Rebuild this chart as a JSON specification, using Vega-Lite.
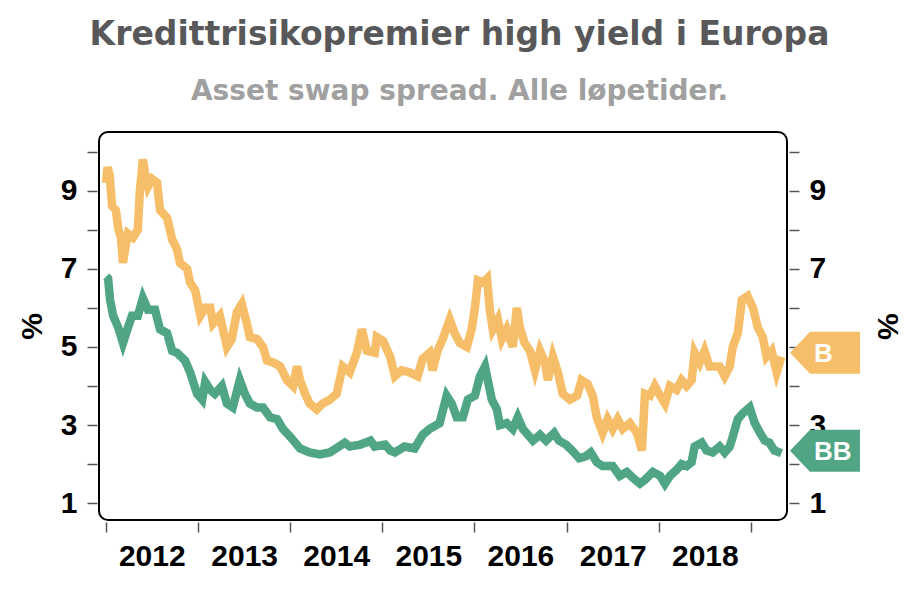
{
  "$schema": "https://vega.github.io/schema/vega-lite/v6.json",
  "width": 688,
  "height": 388,
  "autosize": {"type": "none"},
  "padding": {"left": 99, "top": 132, "right": 133, "bottom": 78},
  "background": "white",
  "title": {
    "text": "Kredittrisikopremier high yield i Europa",
    "subtitle": "Asset swap spread. Alle løpetider.",
    "anchor": "middle",
    "frame": "bounds",
    "font": "DejaVu Sans",
    "fontSize": 33,
    "fontWeight": "bold",
    "color": "#58585a",
    "subtitleFont": "DejaVu Sans",
    "subtitleFontSize": 28,
    "subtitleFontWeight": "bold",
    "subtitleColor": "#a0a0a0",
    "subtitlePadding": 26,
    "offset": 26
  },
  "config": {
    "view": {"stroke": "#000000", "strokeWidth": 2, "cornerRadius": 9, "fill": "white"},
    "axis": {
      "labelFont": "Liberation Sans",
      "labelFontSize": 30,
      "labelFontWeight": "bold",
      "labelColor": "#000000",
      "titleFont": "Liberation Sans",
      "titleFontSize": 30,
      "titleFontWeight": "bold",
      "titleColor": "#000000",
      "grid": false,
      "domain": false,
      "tickColor": "#555555",
      "tickWidth": 1.5,
      "tickSize": 10,
      "offset": 2
    }
  },
  "datasets": {
    "spreads": [
      {"date": "2012-01-02", "series": "B", "spread": 9.2},
      {"date": "2012-01-08", "series": "B", "spread": 9.6},
      {"date": "2012-01-16", "series": "B", "spread": 9.4},
      {"date": "2012-01-26", "series": "B", "spread": 8.6},
      {"date": "2012-02-10", "series": "B", "spread": 8.5},
      {"date": "2012-02-20", "series": "B", "spread": 8.0},
      {"date": "2012-03-01", "series": "B", "spread": 7.8},
      {"date": "2012-03-09", "series": "B", "spread": 7.15},
      {"date": "2012-03-20", "series": "B", "spread": 7.6},
      {"date": "2012-03-29", "series": "B", "spread": 7.9},
      {"date": "2012-04-18", "series": "B", "spread": 7.8},
      {"date": "2012-05-07", "series": "B", "spread": 8.0},
      {"date": "2012-05-15", "series": "B", "spread": 9.0},
      {"date": "2012-05-27", "series": "B", "spread": 9.8},
      {"date": "2012-06-05", "series": "B", "spread": 9.4},
      {"date": "2012-06-16", "series": "B", "spread": 9.1},
      {"date": "2012-07-02", "series": "B", "spread": 9.3},
      {"date": "2012-07-22", "series": "B", "spread": 9.2},
      {"date": "2012-08-03", "series": "B", "spread": 8.5},
      {"date": "2012-08-31", "series": "B", "spread": 8.3},
      {"date": "2012-09-20", "series": "B", "spread": 7.75},
      {"date": "2012-10-09", "series": "B", "spread": 7.5},
      {"date": "2012-10-21", "series": "B", "spread": 7.15},
      {"date": "2012-11-18", "series": "B", "spread": 7.0},
      {"date": "2012-11-30", "series": "B", "spread": 6.65},
      {"date": "2012-12-20", "series": "B", "spread": 6.45},
      {"date": "2013-01-10", "series": "B", "spread": 5.8},
      {"date": "2013-01-29", "series": "B", "spread": 6.0},
      {"date": "2013-02-18", "series": "B", "spread": 6.0},
      {"date": "2013-03-01", "series": "B", "spread": 5.6},
      {"date": "2013-03-28", "series": "B", "spread": 5.8},
      {"date": "2013-04-25", "series": "B", "spread": 5.0},
      {"date": "2013-05-14", "series": "B", "spread": 5.2},
      {"date": "2013-06-04", "series": "B", "spread": 5.9},
      {"date": "2013-06-23", "series": "B", "spread": 6.1},
      {"date": "2013-07-13", "series": "B", "spread": 5.6},
      {"date": "2013-07-25", "series": "B", "spread": 5.25},
      {"date": "2013-08-22", "series": "B", "spread": 5.2},
      {"date": "2013-09-15", "series": "B", "spread": 5.0},
      {"date": "2013-10-01", "series": "B", "spread": 4.65},
      {"date": "2013-10-25", "series": "B", "spread": 4.6},
      {"date": "2013-11-22", "series": "B", "spread": 4.5},
      {"date": "2013-12-19", "series": "B", "spread": 4.15},
      {"date": "2014-01-12", "series": "B", "spread": 4.0},
      {"date": "2014-01-28", "series": "B", "spread": 4.5},
      {"date": "2014-02-09", "series": "B", "spread": 4.15},
      {"date": "2014-03-01", "series": "B", "spread": 3.8},
      {"date": "2014-03-19", "series": "B", "spread": 3.55},
      {"date": "2014-04-16", "series": "B", "spread": 3.4},
      {"date": "2014-05-10", "series": "B", "spread": 3.55},
      {"date": "2014-06-07", "series": "B", "spread": 3.65},
      {"date": "2014-07-04", "series": "B", "spread": 3.8},
      {"date": "2014-07-28", "series": "B", "spread": 4.5},
      {"date": "2014-08-25", "series": "B", "spread": 4.35},
      {"date": "2014-09-22", "series": "B", "spread": 4.85},
      {"date": "2014-10-12", "series": "B", "spread": 5.45},
      {"date": "2014-11-01", "series": "B", "spread": 4.9},
      {"date": "2014-12-02", "series": "B", "spread": 4.85},
      {"date": "2014-12-10", "series": "B", "spread": 5.25},
      {"date": "2015-01-04", "series": "B", "spread": 5.15},
      {"date": "2015-02-01", "series": "B", "spread": 4.75},
      {"date": "2015-02-20", "series": "B", "spread": 4.25},
      {"date": "2015-03-18", "series": "B", "spread": 4.4},
      {"date": "2015-04-19", "series": "B", "spread": 4.35},
      {"date": "2015-05-21", "series": "B", "spread": 4.25},
      {"date": "2015-06-10", "series": "B", "spread": 4.7},
      {"date": "2015-07-07", "series": "B", "spread": 4.85},
      {"date": "2015-07-19", "series": "B", "spread": 4.4},
      {"date": "2015-08-08", "series": "B", "spread": 4.9},
      {"date": "2015-08-28", "series": "B", "spread": 5.2},
      {"date": "2015-09-25", "series": "B", "spread": 5.7},
      {"date": "2015-10-15", "series": "B", "spread": 5.35},
      {"date": "2015-11-04", "series": "B", "spread": 5.1},
      {"date": "2015-12-02", "series": "B", "spread": 5.0},
      {"date": "2015-12-21", "series": "B", "spread": 5.45},
      {"date": "2016-01-03", "series": "B", "spread": 6.0},
      {"date": "2016-01-15", "series": "B", "spread": 6.7},
      {"date": "2016-02-04", "series": "B", "spread": 6.65},
      {"date": "2016-02-20", "series": "B", "spread": 6.75},
      {"date": "2016-03-02", "series": "B", "spread": 5.95},
      {"date": "2016-03-14", "series": "B", "spread": 5.45},
      {"date": "2016-04-03", "series": "B", "spread": 5.7},
      {"date": "2016-04-19", "series": "B", "spread": 5.2},
      {"date": "2016-05-08", "series": "B", "spread": 5.45},
      {"date": "2016-06-01", "series": "B", "spread": 5.0},
      {"date": "2016-06-17", "series": "B", "spread": 6.0},
      {"date": "2016-06-29", "series": "B", "spread": 5.5},
      {"date": "2016-07-18", "series": "B", "spread": 5.1},
      {"date": "2016-08-08", "series": "B", "spread": 4.9},
      {"date": "2016-08-28", "series": "B", "spread": 4.4},
      {"date": "2016-09-17", "series": "B", "spread": 4.9},
      {"date": "2016-10-07", "series": "B", "spread": 4.6},
      {"date": "2016-10-18", "series": "B", "spread": 4.15},
      {"date": "2016-11-07", "series": "B", "spread": 4.75},
      {"date": "2016-11-27", "series": "B", "spread": 4.35},
      {"date": "2016-12-16", "series": "B", "spread": 3.8},
      {"date": "2017-01-14", "series": "B", "spread": 3.65},
      {"date": "2017-02-11", "series": "B", "spread": 3.75},
      {"date": "2017-03-01", "series": "B", "spread": 4.15},
      {"date": "2017-03-25", "series": "B", "spread": 4.05},
      {"date": "2017-04-14", "series": "B", "spread": 3.75},
      {"date": "2017-04-30", "series": "B", "spread": 3.2},
      {"date": "2017-05-23", "series": "B", "spread": 2.8},
      {"date": "2017-06-12", "series": "B", "spread": 3.15},
      {"date": "2017-07-02", "series": "B", "spread": 2.9},
      {"date": "2017-07-22", "series": "B", "spread": 3.15},
      {"date": "2017-08-11", "series": "B", "spread": 2.9},
      {"date": "2017-09-08", "series": "B", "spread": 3.05},
      {"date": "2017-10-06", "series": "B", "spread": 2.8},
      {"date": "2017-10-26", "series": "B", "spread": 2.35},
      {"date": "2017-11-07", "series": "B", "spread": 3.8},
      {"date": "2017-11-27", "series": "B", "spread": 3.75},
      {"date": "2017-12-16", "series": "B", "spread": 4.0},
      {"date": "2018-01-06", "series": "B", "spread": 3.75},
      {"date": "2018-01-25", "series": "B", "spread": 3.55},
      {"date": "2018-02-14", "series": "B", "spread": 4.0},
      {"date": "2018-03-12", "series": "B", "spread": 3.9},
      {"date": "2018-04-01", "series": "B", "spread": 4.15},
      {"date": "2018-04-21", "series": "B", "spread": 4.0},
      {"date": "2018-05-11", "series": "B", "spread": 4.15},
      {"date": "2018-05-23", "series": "B", "spread": 4.85},
      {"date": "2018-06-12", "series": "B", "spread": 4.6},
      {"date": "2018-07-01", "series": "B", "spread": 4.9},
      {"date": "2018-07-21", "series": "B", "spread": 4.5},
      {"date": "2018-08-30", "series": "B", "spread": 4.5},
      {"date": "2018-09-19", "series": "B", "spread": 4.25},
      {"date": "2018-10-09", "series": "B", "spread": 4.5},
      {"date": "2018-10-21", "series": "B", "spread": 5.0},
      {"date": "2018-11-10", "series": "B", "spread": 5.35},
      {"date": "2018-11-26", "series": "B", "spread": 6.2},
      {"date": "2018-12-19", "series": "B", "spread": 6.3},
      {"date": "2019-01-09", "series": "B", "spread": 6.0},
      {"date": "2019-01-28", "series": "B", "spread": 5.5},
      {"date": "2019-02-17", "series": "B", "spread": 5.25},
      {"date": "2019-03-04", "series": "B", "spread": 4.75},
      {"date": "2019-03-24", "series": "B", "spread": 4.9},
      {"date": "2019-04-13", "series": "B", "spread": 4.35},
      {"date": "2019-05-02", "series": "B", "spread": 4.75},
      {"date": "2012-01-02", "series": "BB", "spread": 6.8},
      {"date": "2012-01-10", "series": "BB", "spread": 6.75},
      {"date": "2012-01-18", "series": "BB", "spread": 6.2},
      {"date": "2012-01-30", "series": "BB", "spread": 5.8},
      {"date": "2012-02-19", "series": "BB", "spread": 5.5},
      {"date": "2012-03-09", "series": "BB", "spread": 5.1},
      {"date": "2012-03-29", "series": "BB", "spread": 5.5},
      {"date": "2012-04-14", "series": "BB", "spread": 5.8},
      {"date": "2012-05-07", "series": "BB", "spread": 5.8},
      {"date": "2012-05-27", "series": "BB", "spread": 6.25},
      {"date": "2012-06-16", "series": "BB", "spread": 5.95},
      {"date": "2012-07-14", "series": "BB", "spread": 5.95},
      {"date": "2012-08-03", "series": "BB", "spread": 5.45},
      {"date": "2012-08-31", "series": "BB", "spread": 5.35},
      {"date": "2012-09-20", "series": "BB", "spread": 4.9},
      {"date": "2012-10-09", "series": "BB", "spread": 4.85},
      {"date": "2012-11-10", "series": "BB", "spread": 4.65},
      {"date": "2012-11-30", "series": "BB", "spread": 4.35},
      {"date": "2012-12-28", "series": "BB", "spread": 3.8},
      {"date": "2013-01-17", "series": "BB", "spread": 3.65},
      {"date": "2013-01-29", "series": "BB", "spread": 4.1},
      {"date": "2013-02-18", "series": "BB", "spread": 3.9},
      {"date": "2013-03-08", "series": "BB", "spread": 3.8},
      {"date": "2013-04-05", "series": "BB", "spread": 4.0},
      {"date": "2013-04-25", "series": "BB", "spread": 3.55},
      {"date": "2013-05-18", "series": "BB", "spread": 3.45},
      {"date": "2013-06-15", "series": "BB", "spread": 4.15},
      {"date": "2013-07-05", "series": "BB", "spread": 3.8},
      {"date": "2013-07-25", "series": "BB", "spread": 3.55},
      {"date": "2013-08-22", "series": "BB", "spread": 3.45},
      {"date": "2013-09-15", "series": "BB", "spread": 3.45},
      {"date": "2013-10-13", "series": "BB", "spread": 3.2},
      {"date": "2013-11-10", "series": "BB", "spread": 3.15},
      {"date": "2013-12-03", "series": "BB", "spread": 2.9},
      {"date": "2014-01-01", "series": "BB", "spread": 2.7},
      {"date": "2014-02-09", "series": "BB", "spread": 2.4},
      {"date": "2014-03-19", "series": "BB", "spread": 2.3},
      {"date": "2014-04-28", "series": "BB", "spread": 2.25},
      {"date": "2014-06-07", "series": "BB", "spread": 2.3},
      {"date": "2014-07-01", "series": "BB", "spread": 2.4},
      {"date": "2014-08-05", "series": "BB", "spread": 2.55},
      {"date": "2014-08-25", "series": "BB", "spread": 2.45},
      {"date": "2014-10-06", "series": "BB", "spread": 2.5},
      {"date": "2014-11-15", "series": "BB", "spread": 2.6},
      {"date": "2014-12-02", "series": "BB", "spread": 2.45},
      {"date": "2015-01-12", "series": "BB", "spread": 2.5},
      {"date": "2015-02-01", "series": "BB", "spread": 2.35},
      {"date": "2015-02-20", "series": "BB", "spread": 2.3},
      {"date": "2015-03-30", "series": "BB", "spread": 2.45},
      {"date": "2015-05-09", "series": "BB", "spread": 2.4},
      {"date": "2015-06-10", "series": "BB", "spread": 2.75},
      {"date": "2015-07-07", "series": "BB", "spread": 2.9},
      {"date": "2015-08-16", "series": "BB", "spread": 3.05},
      {"date": "2015-09-13", "series": "BB", "spread": 3.75},
      {"date": "2015-10-03", "series": "BB", "spread": 3.55},
      {"date": "2015-10-23", "series": "BB", "spread": 3.2},
      {"date": "2015-11-16", "series": "BB", "spread": 3.2},
      {"date": "2015-12-06", "series": "BB", "spread": 3.65},
      {"date": "2016-01-03", "series": "BB", "spread": 3.75},
      {"date": "2016-01-23", "series": "BB", "spread": 4.25},
      {"date": "2016-02-12", "series": "BB", "spread": 4.5},
      {"date": "2016-02-23", "series": "BB", "spread": 4.15},
      {"date": "2016-03-10", "series": "BB", "spread": 3.65},
      {"date": "2016-03-30", "series": "BB", "spread": 3.4},
      {"date": "2016-04-11", "series": "BB", "spread": 3.0},
      {"date": "2016-05-08", "series": "BB", "spread": 3.05},
      {"date": "2016-06-01", "series": "BB", "spread": 2.9},
      {"date": "2016-06-21", "series": "BB", "spread": 3.2},
      {"date": "2016-07-11", "series": "BB", "spread": 2.9},
      {"date": "2016-07-31", "series": "BB", "spread": 2.75},
      {"date": "2016-08-20", "series": "BB", "spread": 2.6},
      {"date": "2016-09-17", "series": "BB", "spread": 2.75},
      {"date": "2016-10-11", "series": "BB", "spread": 2.6},
      {"date": "2016-11-12", "series": "BB", "spread": 2.8},
      {"date": "2016-12-01", "series": "BB", "spread": 2.6},
      {"date": "2016-12-29", "series": "BB", "spread": 2.5},
      {"date": "2017-01-22", "series": "BB", "spread": 2.35},
      {"date": "2017-02-19", "series": "BB", "spread": 2.15},
      {"date": "2017-03-17", "series": "BB", "spread": 2.2},
      {"date": "2017-04-06", "series": "BB", "spread": 2.3},
      {"date": "2017-04-30", "series": "BB", "spread": 2.05},
      {"date": "2017-05-23", "series": "BB", "spread": 1.95},
      {"date": "2017-07-02", "series": "BB", "spread": 1.95},
      {"date": "2017-07-30", "series": "BB", "spread": 1.7},
      {"date": "2017-08-27", "series": "BB", "spread": 1.8},
      {"date": "2017-09-20", "series": "BB", "spread": 1.65},
      {"date": "2017-10-18", "series": "BB", "spread": 1.5},
      {"date": "2017-11-07", "series": "BB", "spread": 1.6},
      {"date": "2017-12-08", "series": "BB", "spread": 1.8},
      {"date": "2018-01-06", "series": "BB", "spread": 1.7},
      {"date": "2018-01-25", "series": "BB", "spread": 1.5},
      {"date": "2018-02-14", "series": "BB", "spread": 1.7},
      {"date": "2018-03-12", "series": "BB", "spread": 1.85},
      {"date": "2018-04-01", "series": "BB", "spread": 2.0},
      {"date": "2018-04-21", "series": "BB", "spread": 1.95},
      {"date": "2018-05-11", "series": "BB", "spread": 2.05},
      {"date": "2018-05-23", "series": "BB", "spread": 2.45},
      {"date": "2018-06-20", "series": "BB", "spread": 2.55},
      {"date": "2018-07-09", "series": "BB", "spread": 2.35},
      {"date": "2018-08-02", "series": "BB", "spread": 2.3},
      {"date": "2018-08-30", "series": "BB", "spread": 2.45},
      {"date": "2018-09-19", "series": "BB", "spread": 2.3},
      {"date": "2018-10-09", "series": "BB", "spread": 2.45},
      {"date": "2018-10-21", "series": "BB", "spread": 2.7},
      {"date": "2018-11-10", "series": "BB", "spread": 3.15},
      {"date": "2018-11-30", "series": "BB", "spread": 3.3},
      {"date": "2018-12-27", "series": "BB", "spread": 3.45},
      {"date": "2019-01-16", "series": "BB", "spread": 3.05},
      {"date": "2019-02-06", "series": "BB", "spread": 2.8},
      {"date": "2019-02-25", "series": "BB", "spread": 2.6},
      {"date": "2019-03-15", "series": "BB", "spread": 2.55},
      {"date": "2019-04-04", "series": "BB", "spread": 2.35},
      {"date": "2019-04-24", "series": "BB", "spread": 2.3},
      {"date": "2019-05-02", "series": "BB", "spread": 2.28}
    ],
    "tags": [
      {"series": "B", "value": 4.85},
      {"series": "BB", "value": 2.34}
    ]
  },
  "layer": [
    {
      "data": {"name": "spreads"},
      "mark": {"type": "line", "strokeWidth": 8.5, "clip": true},
      "encoding": {
        "x": {
          "field": "date",
          "type": "temporal",
          "scale": {
            "type": "utc",
            "domain": [
              {"year": 2011, "month": 12, "date": 5, "utc": true},
              {"year": 2019, "month": 5, "date": 24, "utc": true}
            ]
          },
          "axis": {
            "title": null,
            "values": [
              {"year": 2012, "month": 1, "date": 1, "utc": true},
              {"year": 2013, "month": 1, "date": 1, "utc": true},
              {"year": 2014, "month": 1, "date": 1, "utc": true},
              {"year": 2015, "month": 1, "date": 1, "utc": true},
              {"year": 2016, "month": 1, "date": 1, "utc": true},
              {"year": 2017, "month": 1, "date": 1, "utc": true},
              {"year": 2018, "month": 1, "date": 1, "utc": true},
              {"year": 2019, "month": 1, "date": 1, "utc": true}
            ],
            "format": "%Y",
            "labelExpr": "datum.label == '2019' ? '' : datum.label",
            "labelOffset": 46,
            "labelAlign": "center",
            "labelPadding": 9,
            "labelOverlap": false,
            "labelFlush": false
          }
        },
        "y": {
          "field": "spread",
          "type": "quantitative",
          "scale": {"domain": [0.57, 10.5], "nice": false, "zero": false},
          "axis": {
            "orient": "left",
            "title": "%",
            "values": [1, 2, 3, 4, 5, 6, 7, 8, 9, 10],
            "labelExpr": "datum.value % 2 == 1 ? datum.label : ''",
            "labelPadding": 10,
            "titlePadding": 13
          }
        },
        "color": {
          "field": "series",
          "type": "nominal",
          "scale": {"domain": ["B", "BB"], "range": ["#f6be68", "#50a684"]},
          "legend": null
        }
      }
    },
    {
      "data": {"name": "tags"},
      "mark": {
        "type": "point",
        "filled": true,
        "opacity": 1,
        "size": 4,
        "shape": "M 3,0 L 23,-21 L 73,-21 L 73,21 L 23,21 Z"
      },
      "encoding": {
        "x": {"datum": {"year": 2019, "month": 5, "date": 24, "utc": true}, "type": "temporal"},
        "y": {
          "field": "value",
          "type": "quantitative",
          "scale": {"domain": [0.57, 10.5], "nice": false, "zero": false},
          "axis": {
            "orient": "right",
            "title": "%",
            "values": [1, 2, 3, 4, 5, 6, 7, 8, 9, 10],
            "labelExpr": "datum.value % 2 == 1 ? datum.label : ''",
            "labelPadding": 10,
            "titlePadding": 46
          }
        },
        "color": {
          "field": "series",
          "type": "nominal",
          "scale": {"domain": ["B", "BB"], "range": ["#f6be68", "#50a684"]},
          "legend": null
        }
      }
    },
    {
      "data": {"name": "tags"},
      "mark": {
        "type": "text",
        "align": "left",
        "baseline": "middle",
        "dx": 27,
        "dy": 1,
        "font": "Liberation Sans",
        "fontSize": 26,
        "fontWeight": "bold",
        "color": "white"
      },
      "encoding": {
        "x": {"datum": {"year": 2019, "month": 5, "date": 24, "utc": true}, "type": "temporal"},
        "y": {
          "field": "value",
          "type": "quantitative",
          "scale": {"domain": [0.57, 10.5], "nice": false, "zero": false},
          "axis": null
        },
        "text": {"field": "series"}
      }
    }
  ],
  "resolve": {"scale": {"y": "independent"}}
}
